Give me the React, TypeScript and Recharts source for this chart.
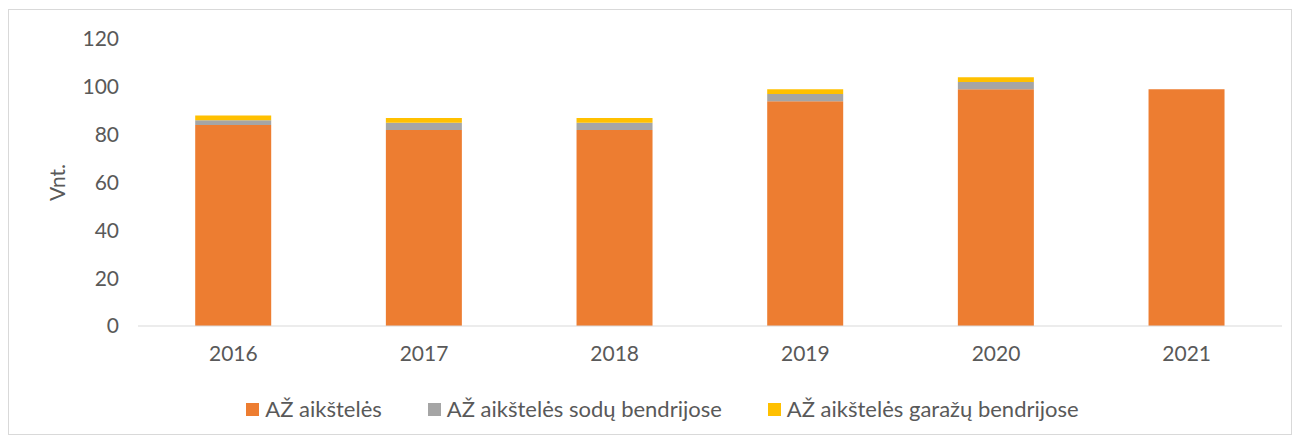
import { Bar, BarChart, Label, Legend, XAxis, YAxis } from "recharts";

const years = ["2016", "2017", "2018", "2019", "2020", "2021"];
const azSites = [84, 82, 82, 94, 99, 99];
const gardenSites = [2, 3, 3, 3, 3, 0];
const garageSites = [2, 2, 2, 2, 2, 0];
const yTicks = [0, 20, 40, 60, 80, 100, 120];

const series = [
  { key: "az", label: "AŽ aikštelės", color: "#ed7d31" },
  { key: "garden", label: "AŽ aikštelės sodų bendrijose", color: "#a5a5a5" },
  { key: "garage", label: "AŽ aikštelės garažų bendrijose", color: "#ffc000" },
];

const data = years.map((y, i) => ({
  year: y,
  az: azSites[i],
  garden: gardenSites[i],
  garage: garageSites[i],
}));

const font = "Lato, 'Open Sans', sans-serif";
const tickStyle = { fontSize: 21, fill: "#595959", fontFamily: font };

function LegendRow() {
  return (
    <div
      style={{
        display: "flex",
        justifyContent: "center",
        gap: 46,
        marginLeft: 34,
        fontFamily: font,
        fontSize: 22,
        color: "#595959",
        lineHeight: "24px",
      }}
    >
      {series.map((s) => (
        <span key={s.key} style={{ display: "inline-flex", alignItems: "center", gap: 6 }}>
          <span style={{ width: 13, height: 13, background: s.color, display: "inline-block" }} />
          {s.label}
        </span>
      ))}
    </div>
  );
}

export default function App() {
  return (
    <div
      style={{
        width: 1282,
        height: 424,
        border: "1px solid #d9d9d9",
        marginTop: 1,
        background: "#fff",
      }}
    >
      <BarChart
        width={1282}
        height={424}
        data={data}
        barCategoryGap="30%"
        margin={{ top: 29, right: 9, left: 0, bottom: 54 }}
      >
        <XAxis
          dataKey="year"
          tick={tickStyle}
          tickLine={false}
          tickMargin={14}
          axisLine={{ stroke: "#d9d9d9" }}
        />
        <YAxis
          width={129}
          domain={[0, 120]}
          ticks={yTicks}
          tick={tickStyle}
          tickLine={false}
          axisLine={false}
          tickMargin={13}
        >
          <Label
            value="Vnt."
            angle={-90}
            position="insideLeft"
            offset={49}
            style={{ fontSize: 21, fill: "#595959", fontFamily: font, textAnchor: "middle" }}
          />
        </YAxis>
        <Legend verticalAlign="bottom" wrapperStyle={{ bottom: 13 }} content={() => <LegendRow />} />
        {series.map((s) => (
          <Bar key={s.key} dataKey={s.key} name={s.label} stackId="a" fill={s.color} isAnimationActive={false} />
        ))}
      </BarChart>
    </div>
  );
}
